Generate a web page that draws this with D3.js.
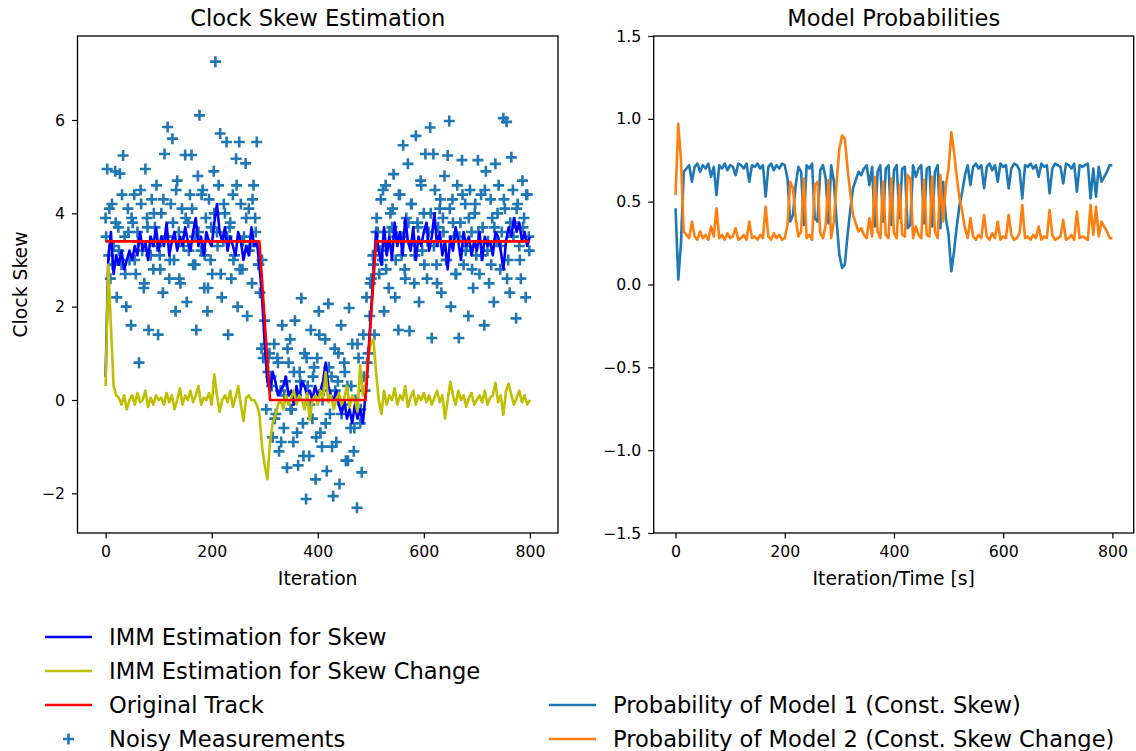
<!DOCTYPE html>
<html>
<head>
<meta charset="utf-8">
<script src="https://cdn.jsdelivr.net/npm/d3@7"></script>
<style>
  body { margin: 0; background: #fff; }
  text { font-family: "DejaVu Sans", sans-serif; fill: #000; }
</style>
</head>
<body>
<div id="chart"></div>
<script>
// Noisy measurements, one every 3 iterations (0..798)
var measSkew = [
  // 0 - 288
  3.9, 4.95, 3.1, 2.6, 4.2, 3.3, 4.9, 2.2, 3.7, 4.85,
  2.9, 5.24, 3.5, 2.0, 4.1, 3.0, 1.6, 3.8, 4.4, 2.7,
  3.6, 0.8, 4.5, 3.2, 2.4, 4.95, 3.9, 1.5, 3.4, 4.3,
  2.8, 3.7, 4.6, 1.4, 3.1, 4.0, 2.3, 5.27, 3.5, 5.85,
  2.6, 4.2, 5.6, 3.0, 1.9, 4.7, 3.6, 2.5, 4.1, 3.3,
  5.25, 2.1, 3.8, 4.4, 5.25, 2.9, 3.5, 1.5, 4.8, 6.1,
  3.2, 4.5, 2.4, 3.9, 1.9, 4.3, 3.0, 2.7, 4.9, 7.25,
  3.6, 4.6, 5.71, 2.2, 3.4, 4.0, 5.53, 1.4, 3.7, 2.6,
  4.4, 3.1, 5.17, 2.0, 5.53, 4.2, 2.8, 3.5, 5.07, 1.8,
  4.1, 3.3, 2.5, 4.6, 3.9, 5.53, 2.9,
  // 291 - 309
  2.3, 1.1, 0.9, 1.7, -0.2, 0.6, 1.0,
  // 312 - 489
  0.5, -0.8, 1.2, -0.3, 0.9, -1.1, 0.2, 1.6, -0.6, 0.4,
  -1.45, 0.8, 1.3, -0.2, -0.9, 1.7, 0.1, -1.4, 0.6, 2.18,
  -0.5, 1.0, -2.12, 0.3, -1.2, 1.5, -0.4, 0.7, -1.7, 0.9,
  1.9, -0.7, -1.0, 0.2, 1.3, -1.52, 2.06, -0.3, 0.5, -2.06,
  1.1, -0.9, 0.4, -1.8, 1.6, -0.1, 0.8, -1.3, 0.3, 1.97,
  -0.6, 1.2, -1.1, 0.0, -2.31, 0.9, -0.5, -1.55, 1.4, 0.2,
  // 492 - 510
  2.2, 1.0, 1.8, 2.6, 3.1, 1.4, 3.6,
  // 513 - 798
  3.6, 2.7, 4.3, 3.0, 1.9, 4.6, 3.3, 2.4, 4.0, 3.7,
  4.84, 2.2, 3.5, 1.5, 4.4, 3.1, 5.46, 2.8, 3.9, 5.06,
  1.48, 4.2, 3.4, 2.5, 5.66, 3.8, 2.1, 4.7, 3.2, 4.0,
  5.27, 2.6, 3.6, 5.84, 1.33, 5.27, 4.5, 2.9, 3.7, 4.1,
  2.3, 3.9, 4.8, 3.0, 5.24, 5.98, 2.0, 4.3, 3.5, 2.7,
  4.6, 1.33, 3.8, 5.14, 2.9, 4.2, 3.3, 1.8, 4.5, 3.6,
  2.4, 4.0, 3.1, 5.14, 2.7, 4.4, 3.7, 1.6, 4.9, 3.2,
  2.5, 4.3, 3.9, 2.1, 5.06, 3.4, 4.6, 2.8, 3.6, 6.04,
  4.1, 5.96, 3.0, 2.3, 5.2, 4.5, 3.8, 1.75, 4.2, 3.3,
  2.6, 4.7, 3.9, 2.2, 4.4, 3.5
];
var measIter = d3.range(0, 800, 3);

// more measurements in between, one every 6 iterations (1..799)
var measSkewB = [
  // 1 - 289
  3.5, 4.1, 2.9, 3.8, 3.2, 4.4, 2.7, 3.6, 3.9, 3.0,
  3.4, 4.2, 2.5, 3.7, 3.1, 4.0, 3.3, 2.8, 4.3, 3.5,
  3.0, 3.8, 4.5, 2.6, 3.4, 3.9, 3.2, 4.1, 2.9, 3.6,
  4.4, 3.1, 2.4, 3.7, 4.0, 3.3, 2.7, 4.2, 3.5, 3.8,
  3.0, 4.6, 2.8, 3.4, 3.9, 3.2, 4.3, 3.6, 2.9,
  // 295 - 307
  3.0, 1.2, 0.9,
  // 313 - 487
  0.3, -0.4, 0.8, -0.9, 0.1, 1.1, -0.2, 0.6, -0.7, 0.4,
  -1.2, 0.9, -0.1, 0.5, -0.8, 1.4, 0.0, -0.5, 0.7, -1.0,
  0.2, 1.0, -0.3, 0.6, -1.3, 0.3, -0.6, 1.2, -0.2, 0.5,
  // 493 - 505
  0.8, 2.5, 2.9,
  // 511 - 799
  3.9, 3.2, 4.5, 2.8, 3.6, 4.1, 3.0, 4.4, 3.5, 2.6,
  3.8, 4.2, 3.1, 3.7, 4.6, 2.9, 3.4, 4.0, 3.3, 2.5,
  4.3, 3.6, 3.0, 4.1, 3.8, 2.7, 3.5, 4.4, 3.2, 3.9,
  2.8, 4.2, 3.6, 3.1, 4.5, 3.4, 2.9, 3.7, 4.0, 3.3,
  4.3, 2.6, 3.8, 3.5, 4.1, 3.0, 3.7, 4.4, 3.2
];
var measIterB = d3.range(1, 800, 6);

// IMM estimates, one every 5 iterations (0..800)
var immSkew = [
  0.5, 3.0, 3.6, 2.7, 3.1, 2.9, 3.2, 2.8, 3.0, 3.2,
  3.0, 3.3, 3.1, 3.6, 3.2, 3.4, 3.0, 3.5, 3.3, 3.7,
  3.2, 3.5, 3.3, 3.8, 3.1, 3.4, 3.6, 3.2, 3.5, 3.3,
  3.7, 3.4, 3.2, 3.6, 3.9, 3.3, 3.5, 3.1, 3.6, 3.4,
  3.3, 3.8, 4.2, 3.6, 3.4, 3.7, 3.2, 3.5, 3.3, 3.1,
  3.6, 3.4, 3.0, 3.3, 3.1, 3.7, 3.3, 3.4, 2.9, 2.2,
  1.2, 0.4, 0.2, 0.6, 0.4, 0.1, 0.2, 0.3, 0.5, 0.1,
  0.2, -0.1, 0.3, 0.0, 0.4, 0.3, 0.1, 0.2, 0.0, 0.3,
  0.1, 0.2, 0.4, 0.8, 0.3, 0.1, 0.0, 0.2, -0.1, -0.3,
  0.0, -0.4, -0.2, -0.5, -0.1, -0.4, -0.2, -0.5, 0.1, 0.9,
  1.8, 2.7, 3.6, 3.2, 2.9, 3.7, 3.1, 3.5, 3.0, 3.8,
  3.3, 3.6, 3.1, 3.9, 3.4, 3.2, 3.7, 3.0, 3.5, 3.3,
  3.6, 3.8, 3.2, 3.5, 4.0, 3.3, 3.6, 3.1, 3.4, 2.8,
  3.5, 3.2, 3.7, 3.4, 3.0, 3.6, 3.3, 3.5, 3.1, 3.4,
  3.2, 3.6, 3.0, 3.5, 3.3, 3.4, 3.1, 3.6, 3.5, 3.2,
  2.8, 3.4, 3.7, 3.5, 3.9, 3.6, 3.8, 3.4, 3.6, 3.3,
  3.5
];
var immSkewChange = [
  0.3, 2.9, 1.6, 0.3, 0.1, 0.05, -0.1, 0.1, -0.2, 0.0,
  0.1, -0.1, 0.15, -0.05, 0.0, 0.2, -0.15, 0.05, -0.1, 0.1,
  0.0, 0.05, -0.1, 0.15, -0.05, 0.1, -0.2, 0.0, 0.25, -0.1,
  0.1, 0.0, 0.2, -0.05, 0.1, 0.3, -0.1, 0.05, 0.0, 0.15,
  -0.1, 0.55, 0.1, -0.25, 0.0, 0.1, -0.05, 0.2, -0.15, 0.05,
  0.3, -0.1, -0.45, 0.05, 0.1, 0.0, 0.0, -0.1, -0.3, -1.0,
  -1.4, -1.7, -0.9, -0.5, -0.35, -0.1, 0.0, -0.2, 0.1, -0.1,
  0.05, 0.2, -0.1, 0.1, 0.0, -0.2, 0.15, -0.43, 0.0, 0.1,
  -0.1, 0.2, 0.05, 0.6, -0.05, 0.1, -0.2, 0.0, 0.15, -0.1,
  0.05, 0.3, -0.15, 0.1, 0.0, -0.25, 0.75, 0.1, 0.3, 0.9,
  1.2, 1.3, 0.6, 0.0, -0.3, 0.2, -0.1, 0.1, 0.0, 0.25,
  -0.1, 0.1, 0.0, 0.3, -0.15, 0.05, 0.2, -0.1, 0.1, 0.0,
  0.15, -0.05, 0.1, -0.1, 0.05, 0.2, -0.05, 0.1, -0.4, 0.0,
  0.39, 0.1, -0.1, 0.2, 0.0, 0.1, -0.15, 0.05, 0.15, -0.1,
  0.0, 0.1, -0.05, 0.2, -0.1, 0.05, 0.1, 0.37, -0.05, 0.1,
  -0.32, 0.2, 0.35, 0.1, -0.1, 0.05, 0.2, -0.05, 0.1, -0.1,
  0.0
];
var probModel1 = [
  0.46, 0.03, 0.25, 0.68, 0.70, 0.72, 0.62, 0.71, 0.73, 0.68,
  0.72, 0.70, 0.73, 0.65, 0.71, 0.54, 0.72, 0.70, 0.73, 0.69,
  0.72, 0.71, 0.66, 0.73, 0.72, 0.70, 0.73, 0.62, 0.72, 0.71,
  0.73, 0.70, 0.72, 0.53, 0.71, 0.73, 0.69, 0.72, 0.70, 0.73,
  0.72, 0.64, 0.38, 0.42, 0.60, 0.71, 0.68, 0.36, 0.72, 0.70,
  0.73, 0.40, 0.38, 0.69, 0.72, 0.64, 0.37, 0.72, 0.62, 0.38,
  0.18, 0.10, 0.12, 0.30, 0.45, 0.58, 0.63, 0.68, 0.66, 0.70,
  0.72, 0.60, 0.71, 0.35, 0.68, 0.72, 0.38, 0.70, 0.72, 0.36,
  0.69, 0.72, 0.40, 0.70, 0.71, 0.34, 0.36, 0.72, 0.65, 0.70,
  0.72, 0.37, 0.70, 0.71, 0.35, 0.68, 0.72, 0.34, 0.62, 0.40,
  0.30, 0.08, 0.20, 0.35, 0.48, 0.56, 0.66, 0.72, 0.60, 0.71,
  0.73, 0.70, 0.72, 0.58, 0.71, 0.73, 0.69, 0.72, 0.62, 0.73,
  0.71, 0.72, 0.58, 0.70, 0.73, 0.72, 0.69, 0.52, 0.72, 0.71,
  0.73, 0.70, 0.72, 0.65, 0.73, 0.71, 0.72, 0.55, 0.70, 0.73,
  0.72, 0.71, 0.61, 0.73, 0.72, 0.70, 0.73, 0.56, 0.72, 0.71,
  0.72, 0.73, 0.52, 0.70, 0.53, 0.71, 0.62, 0.65, 0.68, 0.72,
  0.72
];
var probModel2 = [
  0.54, 0.97, 0.75, 0.32, 0.30, 0.28, 0.38, 0.29, 0.27, 0.32,
  0.28, 0.30, 0.27, 0.35, 0.29, 0.46, 0.28, 0.30, 0.27, 0.31,
  0.28, 0.29, 0.34, 0.27, 0.28, 0.30, 0.27, 0.38, 0.28, 0.29,
  0.27, 0.30, 0.28, 0.47, 0.29, 0.27, 0.31, 0.28, 0.30, 0.27,
  0.28, 0.36, 0.62, 0.58, 0.40, 0.29, 0.32, 0.64, 0.28, 0.30,
  0.27, 0.60, 0.62, 0.31, 0.28, 0.36, 0.63, 0.28, 0.38, 0.62,
  0.82, 0.90, 0.88, 0.70, 0.55, 0.42, 0.37, 0.32, 0.34, 0.30,
  0.28, 0.40, 0.29, 0.65, 0.32, 0.28, 0.62, 0.30, 0.28, 0.64,
  0.31, 0.28, 0.60, 0.30, 0.29, 0.66, 0.64, 0.28, 0.35, 0.30,
  0.28, 0.63, 0.30, 0.29, 0.65, 0.32, 0.28, 0.66, 0.38, 0.60,
  0.70, 0.92, 0.80, 0.65, 0.52, 0.44, 0.34, 0.28, 0.40, 0.29,
  0.27, 0.30, 0.28, 0.42, 0.29, 0.27, 0.31, 0.28, 0.38, 0.27,
  0.29, 0.28, 0.42, 0.30, 0.27, 0.28, 0.31, 0.48, 0.28, 0.29,
  0.27, 0.30, 0.28, 0.35, 0.27, 0.29, 0.28, 0.45, 0.30, 0.27,
  0.28, 0.29, 0.39, 0.27, 0.28, 0.30, 0.27, 0.44, 0.28, 0.29,
  0.28, 0.27, 0.48, 0.30, 0.47, 0.29, 0.38, 0.35, 0.32, 0.28,
  0.28
];
var estIter = d3.range(0, 801, 5);

// Original track corners
var trackIter = [0, 290, 310, 490, 510, 799];
var trackSkew = [3.4, 3.4, 0, 0, 3.4, 3.4];

// Tick values
var iterTicks = [0, 200, 400, 600, 800];
var skewTicks = [-2, 0, 2, 4, 6];
var probTicks = [-1.5, -1.0, -0.5, 0.0, 0.5, 1.0, 1.5];

var w = 1136;
var h = 751;
var plotTop = 36, plotBottom = 533;

var svg = d3
  .select("#chart")
  .append("svg")
  .attr("width", w)
  .attr("height", h)
  .style("background", "#fff");

// scales
var xLeft = d3.scaleLinear().domain([-53, 853]).range([77.5, 558]);
var yLeft = d3.scaleLinear().domain([-2.85, 7.8]).range([plotBottom, plotTop]);
var xRight = d3.scaleLinear().domain([-40, 839]).range([653.7, 1133.7]);
var yRight = d3.scaleLinear().domain([-1.5, 1.5]).range([plotBottom, plotTop]);

function zip(xs, ys) {
  return xs.map(function (x, i) { return [x, ys[i]]; });
}

function drawLine(g, xs, ys, xScale, yScale, color) {
  var line = d3.line()
    .x(function (d) { return xScale(d[0]); })
    .y(function (d) { return yScale(d[1]); });
  g.append("path")
    .datum(zip(xs, ys))
    .attr("d", line)
    .attr("fill", "none")
    .attr("stroke", color)
    .attr("stroke-width", 2.6)
    .attr("stroke-linejoin", "round");
}

var plus = "M-5.5,0H5.5M0,-5.5V5.5";

// ---- Left panel: Clock Skew Estimation ----
var left = svg.append("g");

var measPoints = zip(measIter, measSkew).concat(zip(measIterB, measSkewB));
left.selectAll("path.meas")
  .data(measPoints)
  .enter()
  .append("path")
  .attr("class", "meas")
  .attr("d", plus)
  .attr("transform", function (d) {
    return "translate(" + xLeft(d[0]) + "," + yLeft(d[1]) + ")";
  })
  .attr("stroke", "#1f77b4")
  .attr("stroke-width", 2.6);

drawLine(left, estIter, immSkew, xLeft, yLeft, "#0000ff");
drawLine(left, estIter, immSkewChange, xLeft, yLeft, "#bfbf00");
drawLine(left, trackIter, trackSkew, xLeft, yLeft, "#ff0000");

// ---- Right panel: Model Probabilities ----
var right = svg.append("g");
drawLine(right, estIter, probModel1, xRight, yRight, "#1f77b4");
drawLine(right, estIter, probModel2, xRight, yRight, "#ff7f0e");

// axes and frames
function drawAxes(xScale, yScale, yTicks, yFormat) {
  var gx = svg.append("g")
    .attr("transform", "translate(0," + plotBottom + ")")
    .call(d3.axisBottom(xScale).tickValues(iterTicks).tickSize(5.5).tickPadding(7.5).tickSizeOuter(0));
  var gy = svg.append("g")
    .attr("transform", "translate(" + xScale.range()[0] + ",0)")
    .call(d3.axisLeft(yScale).tickValues(yTicks).tickFormat(yFormat).tickSize(5.5).tickPadding(7).tickSizeOuter(0));
  [gx, gy].forEach(function (g) {
    g.select(".domain").remove();
    g.selectAll("text").style("font-size", "15.7px").attr("fill", "#000");
    g.selectAll("line").attr("stroke", "#000").attr("stroke-width", 1.2);
  });
  svg.append("rect")
    .attr("x", xScale.range()[0])
    .attr("y", plotTop)
    .attr("width", xScale.range()[1] - xScale.range()[0])
    .attr("height", plotBottom - plotTop)
    .attr("fill", "none")
    .attr("stroke", "#000")
    .attr("stroke-width", 1.3);
}

drawAxes(xLeft, yLeft, skewTicks, d3.format("d"));
drawAxes(xRight, yRight, probTicks, d3.format(".1f"));

// titles and labels
svg.append("text").attr("x", 317.7).attr("y", 26).attr("text-anchor", "middle")
  .style("font-size", "22.6px").text("Clock Skew Estimation");
svg.append("text").attr("x", 893.7).attr("y", 26).attr("text-anchor", "middle")
  .style("font-size", "22.6px").text("Model Probabilities");
svg.append("text").attr("x", 317.7).attr("y", 585).attr("text-anchor", "middle")
  .style("font-size", "18.8px").text("Iteration");
svg.append("text").attr("x", 893.7).attr("y", 585).attr("text-anchor", "middle")
  .style("font-size", "18.8px").text("Iteration/Time [s]");
svg.append("text")
  .attr("transform", "translate(27," + (plotTop + plotBottom) / 2 + ") rotate(-90)")
  .attr("text-anchor", "middle")
  .style("font-size", "18.8px").text("Clock Skew");

// legends
var legendLeft = [
  { label: "IMM Estimation for Skew", color: "#0000ff", type: "line" },
  { label: "IMM Estimation for Skew Change", color: "#bfbf00", type: "line" },
  { label: "Original Track", color: "#ff0000", type: "line" },
  { label: "Noisy Measurements", color: "#1f77b4", type: "marker" }
];
var legendRight = [
  { label: "Probability of Model 1 (Const. Skew)", color: "#1f77b4", type: "line" },
  { label: "Probability of Model 2 (Const. Skew Change)", color: "#ff7f0e", type: "line" }
];

function drawLegend(items, x0, y0) {
  items.forEach(function (d, i) {
    var y = y0 + i * 34;
    if (d.type == "line") {
      svg.append("line")
        .attr("x1", x0).attr("x2", x0 + 47)
        .attr("y1", y).attr("y2", y)
        .attr("stroke", d.color).attr("stroke-width", 2.6);
    } else {
      svg.append("path")
        .attr("d", plus)
        .attr("transform", "translate(" + (x0 + 23.5) + "," + y + ")")
        .attr("stroke", d.color).attr("stroke-width", 2.6);
    }
    svg.append("text")
      .attr("x", x0 + 64)
      .attr("y", y)
      .attr("dy", "0.35em")
      .style("font-size", "22.6px")
      .text(d.label);
  });
}

drawLegend(legendLeft, 45, 637);
drawLegend(legendRight, 549, 705);
</script>
</body>
</html>
